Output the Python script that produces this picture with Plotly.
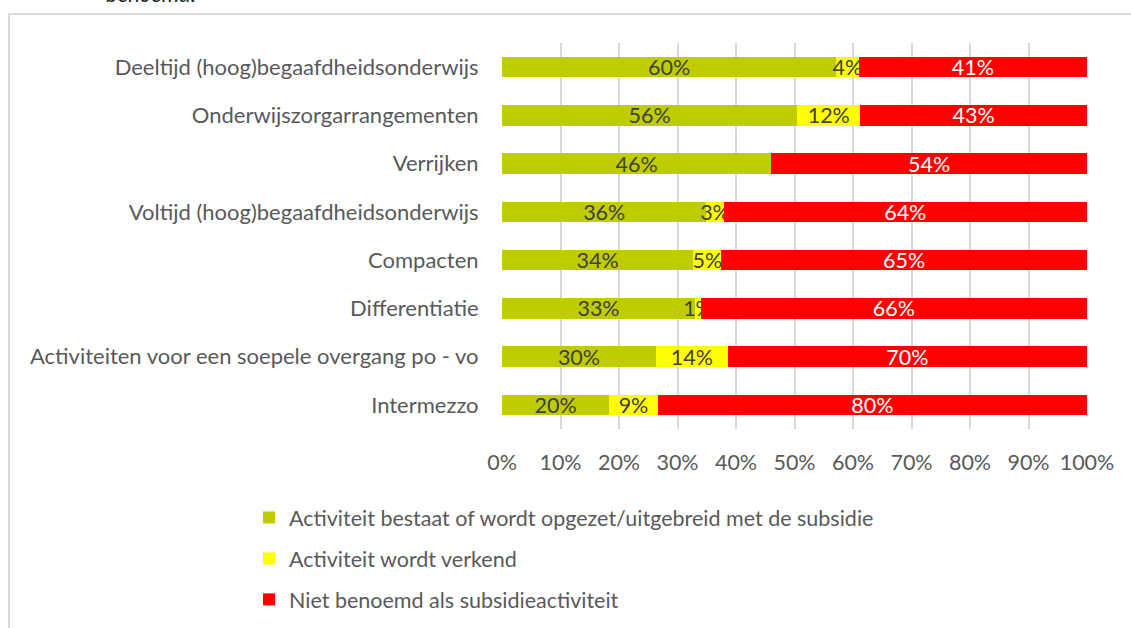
import plotly.graph_objects as go

categories = [
    "Deeltijd (hoog)begaafdheidsonderwijs",
    "Onderwijszorgarrangementen",
    "Verrijken",
    "Voltijd (hoog)begaafdheidsonderwijs",
    "Compacten",
    "Differentiatie",
    "Activiteiten voor een soepele overgang po - vo",
    "Intermezzo",
]
bestaat = [60, 56, 46, 36, 34, 33, 30, 20]
verkend = [4, 12, 0, 3, 5, 1, 14, 9]
niet = [41, 43, 54, 64, 65, 66, 70, 80]

series_names = [
    "Activiteit bestaat of wordt opgezet/uitgebreid met de subsidie",
    "Activiteit wordt verkend",
    "Niet benoemd als subsidieactiviteit",
]
series_values = [bestaat, verkend, niet]
series_colors = ["#BFCC00", "#FFFF00", "#FF0000"]
text_colors = ["#404040", "#404040", "#FFFFFF"]
x_ticks = list(range(0, 101, 10))

FONT = "Lato, Carlito, Calibri, sans-serif"
FS = 21.5
W, H = 1131, 628
L, R, T, B = 502, 44, 43, 199
pw, ph = W - L - R, H - T - B

def px_x(p):
    return (p - L) / pw

def px_y(p):
    return (H - B - p) / ph

fig = go.Figure()
for i, (name, vals, col, tcol) in enumerate(zip(series_names, series_values, series_colors, text_colors)):
    fig.add_trace(go.Bar(
        y=categories, x=vals, name=name, orientation="h",
        marker=dict(color=col, line=dict(width=0)),
        text=[f"{v}%" if v else "" for v in vals],
        textposition="inside", insidetextanchor="middle", textangle=0,
        textfont=dict(color=tcol, size=FS, family=FONT),
        legendgroup=f"g{i}",
        hoverinfo="skip",
    ))

fig.update_layout(
    width=W, height=H,
    margin=dict(l=L, r=R, t=T, b=B, autoexpand=False),
    barmode="stack", barnorm="percent", bargap=0.58,
    plot_bgcolor="white", paper_bgcolor="white",
    font=dict(family=FONT, color="#595959", size=FS),
    uniformtext=dict(minsize=FS, mode="show"),
    showlegend=True,
    legend=dict(
        x=px_x(249), y=px_y(497), xanchor="left", yanchor="top",
        traceorder="grouped", tracegroupgap=10,
        font=dict(size=FS, color="#595959", family=FONT),
        itemwidth=30, bgcolor="rgba(0,0,0,0)",
    ),
    xaxis=dict(
        range=[0, 100], tickvals=x_ticks, ticktext=[f"{t}%" for t in x_ticks],
        showgrid=True, gridcolor="#D9D9D9", gridwidth=2,
        zeroline=False, showline=False,
        ticks="outside", ticklen=14, tickcolor="rgba(0,0,0,0)",
        tickfont=dict(size=FS, color="#595959"),
        fixedrange=True,
    ),
    yaxis=dict(
        categoryorder="array", categoryarray=categories, autorange="reversed",
        showgrid=False, zeroline=False, showline=False,
        ticks="outside", ticklen=18, tickcolor="rgba(0,0,0,0)",
        tickfont=dict(size=22, color="#595959"),
        fixedrange=True,
    ),
    shapes=[dict(
        type="rect", xref="paper", yref="paper",
        x0=px_x(9), x1=px_x(1140), y0=px_y(640), y1=px_y(14),
        line=dict(color="#D9D9D9", width=2), fillcolor="rgba(0,0,0,0)", layer="below",
    )],
    annotations=[dict(
        text="<i>benoemd.</i>", xref="paper", yref="paper",
        x=px_x(104), y=px_y(9), xanchor="left", yanchor="bottom",
        showarrow=False, font=dict(size=22, color="#262626", family=FONT),
    )],
)

fig.write_html("out.html", config={"displayModeBar": False},
               post_script="document.body.style.margin='0px';")
